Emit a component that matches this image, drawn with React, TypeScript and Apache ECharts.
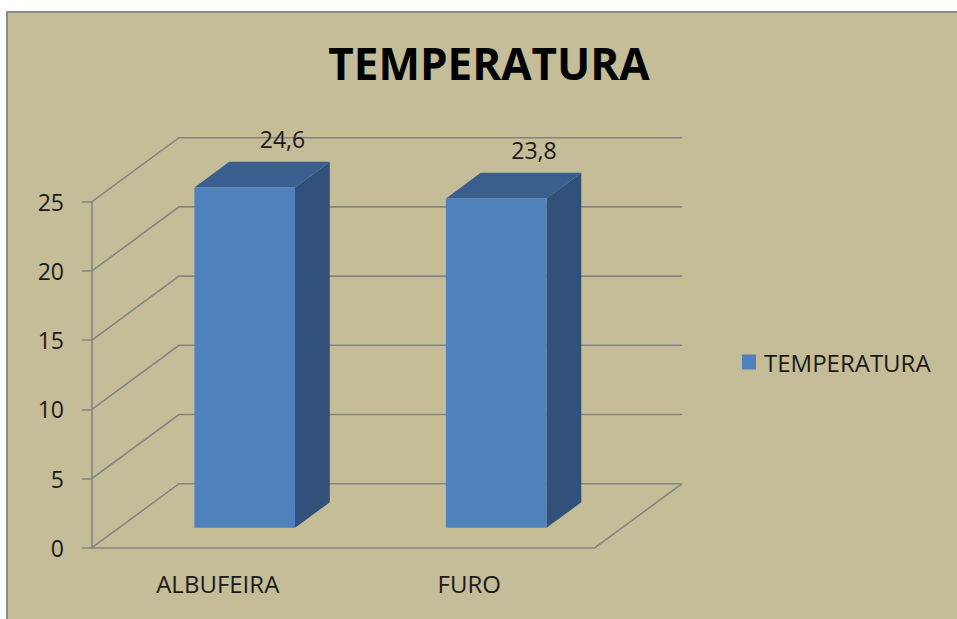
import React, { useEffect, useRef } from "react";
import * as echarts from "echarts";

// Chart data
const categories = ["ALBUFEIRA", "FURO"];
const temperatures = [24.6, 23.8];
const yTicks = [0, 5, 10, 15, 20, 25];
const seriesName = "TEMPERATURA";

// Pseudo-3D projection: offset of the back wall relative to the front plane
const DEPTH_X = 87;
const DEPTH_Y = -64;
const BAR_FRONT = 0.31; // depth fraction where the bar front face sits
const BAR_DEPTH = 0.4; // depth fraction covered by a bar
const BAR_WIDTH = 0.4; // bar width as a share of the category band

const FONT = "'Open Sans', 'DejaVu Sans', sans-serif";
const GRID_COLOR = "#858582";
const FRONT_COLOR = "#4F81BD";
const TOP_COLOR = "#3A5F8F";
const SIDE_COLOR = "#31517B";

const formatValue = (v: number) => v.toFixed(1).replace(".", ",");

export default function App() {
  const ref = useRef<HTMLDivElement>(null);

  useEffect(() => {
    if (!ref.current) return;
    const chart = echarts.init(ref.current, null, { renderer: "svg" });

    const gridStyle = { stroke: GRID_COLOR, lineWidth: 1.6, fill: "none" };

    const option: any = {
      animation: false,
      backgroundColor: "#ffffff",
      textStyle: { fontFamily: FONT },
      graphic: [
        {
          type: "rect",
          z: -10,
          silent: true,
          shape: { x: 7, y: 12, width: 1000, height: 700 },
          style: { fill: "#C4BD97", stroke: "#8c8c8c", lineWidth: 2 },
        },
      ],
      title: {
        text: "TEMPERATURA",
        left: 484,
        textAlign: "center",
        top: 36,
        textStyle: {
          fontFamily: FONT,
          fontSize: 44,
          fontWeight: "bold",
          color: "#000000",
        },
      },
      legend: {
        data: [{ name: seriesName, icon: "rect" }],
        left: 742,
        top: 350,
        padding: 0,
        itemWidth: 14,
        itemHeight: 15,
        textStyle: {
          fontFamily: FONT,
          fontSize: 24,
          color: "#1a1a1a",
          padding: [0, 0, 0, 3],
        },
      },
      grid: { left: 92, top: 201.7, width: 503, height: 346 },
      xAxis: {
        type: "category",
        data: categories,
        axisLine: { lineStyle: { color: GRID_COLOR, width: 1.6 } },
        axisTick: { length: 9, lineStyle: { color: GRID_COLOR, width: 1.6 } },
        axisLabel: {
          margin: 24,
          fontFamily: FONT,
          fontSize: 24,
          color: "#1a1a1a",
        },
      },
      yAxis: {
        type: "value",
        min: 0,
        max: 25,
        interval: 5,
        splitLine: { show: false },
        axisLine: { show: true, lineStyle: { color: GRID_COLOR, width: 1.6 } },
        axisTick: {
          show: true,
          length: 10,
          lineStyle: { color: GRID_COLOR, width: 1.6 },
        },
        axisLabel: {
          margin: 28,
          fontFamily: FONT,
          fontSize: 23,
          color: "#1a1a1a",
        },
      },
      series: [
        {
          // Side wall, back wall and floor gridlines
          name: "grid-walls",
          type: "custom",
          silent: true,
          z: 1,
          data: yTicks.map((t) => [0, t]),
          renderItem: (_params: any, api: any) => {
            const v = api.value(1);
            const band = api.size([1, 0])[0];
            const p = api.coord([0, v]);
            const x0 = p[0] - band / 2;
            const x1 = x0 + band * categories.length;
            const y = p[1];
            const children: any[] = [
              {
                type: "polyline",
                shape: {
                  points: [
                    [x0, y],
                    [x0 + DEPTH_X, y + DEPTH_Y],
                    [x1 + DEPTH_X, y + DEPTH_Y],
                  ],
                },
                style: gridStyle,
              },
            ];
            if (v === 0) {
              children.push({
                type: "line",
                shape: { x1: x1, y1: y, x2: x1 + DEPTH_X, y2: y + DEPTH_Y },
                style: gridStyle,
              });
            }
            return { type: "group", children };
          },
        },
        {
          name: seriesName,
          type: "custom",
          z: 2,
          itemStyle: { color: FRONT_COLOR },
          data: temperatures.map((v, i) => [i, v]),
          renderItem: (_params: any, api: any) => {
            const i = api.value(0);
            const v = api.value(1);
            const band = api.size([1, 0])[0];
            const c = api.coord([i, v]);
            const b = api.coord([i, 0]);
            const w = band * BAR_WIDTH;
            const fx = c[0] - w / 2 + DEPTH_X * BAR_FRONT;
            const top = c[1] + DEPTH_Y * BAR_FRONT;
            const bot = b[1] + DEPTH_Y * BAR_FRONT;
            const dx = DEPTH_X * BAR_DEPTH;
            const dy = DEPTH_Y * BAR_DEPTH;
            return {
              type: "group",
              children: [
                {
                  type: "polygon",
                  shape: {
                    points: [
                      [fx + w, top],
                      [fx + w + dx, top + dy],
                      [fx + w + dx, bot + dy],
                      [fx + w, bot],
                    ],
                  },
                  style: { fill: SIDE_COLOR },
                },
                {
                  type: "polygon",
                  shape: {
                    points: [
                      [fx, top],
                      [fx + dx, top + dy],
                      [fx + w + dx, top + dy],
                      [fx + w, top],
                    ],
                  },
                  style: { fill: TOP_COLOR },
                },
                {
                  type: "rect",
                  shape: { x: fx, y: top, width: w, height: bot - top },
                  style: { fill: FRONT_COLOR },
                },
                {
                  type: "text",
                  x: fx + w / 2 + dx + 3,
                  y: top + dy - 23,
                  style: {
                    text: formatValue(v),
                    fill: "#1a1a1a",
                    fontFamily: FONT,
                    fontSize: 23,
                    align: "center",
                    verticalAlign: "middle",
                  },
                },
              ],
            };
          },
        },
      ],
    };

    chart.setOption(option);
    return () => chart.dispose();
  }, []);

  return (
    <div
      ref={ref}
      style={{ position: "fixed", left: 0, top: 0, width: 957, height: 619 }}
    />
  );
}
